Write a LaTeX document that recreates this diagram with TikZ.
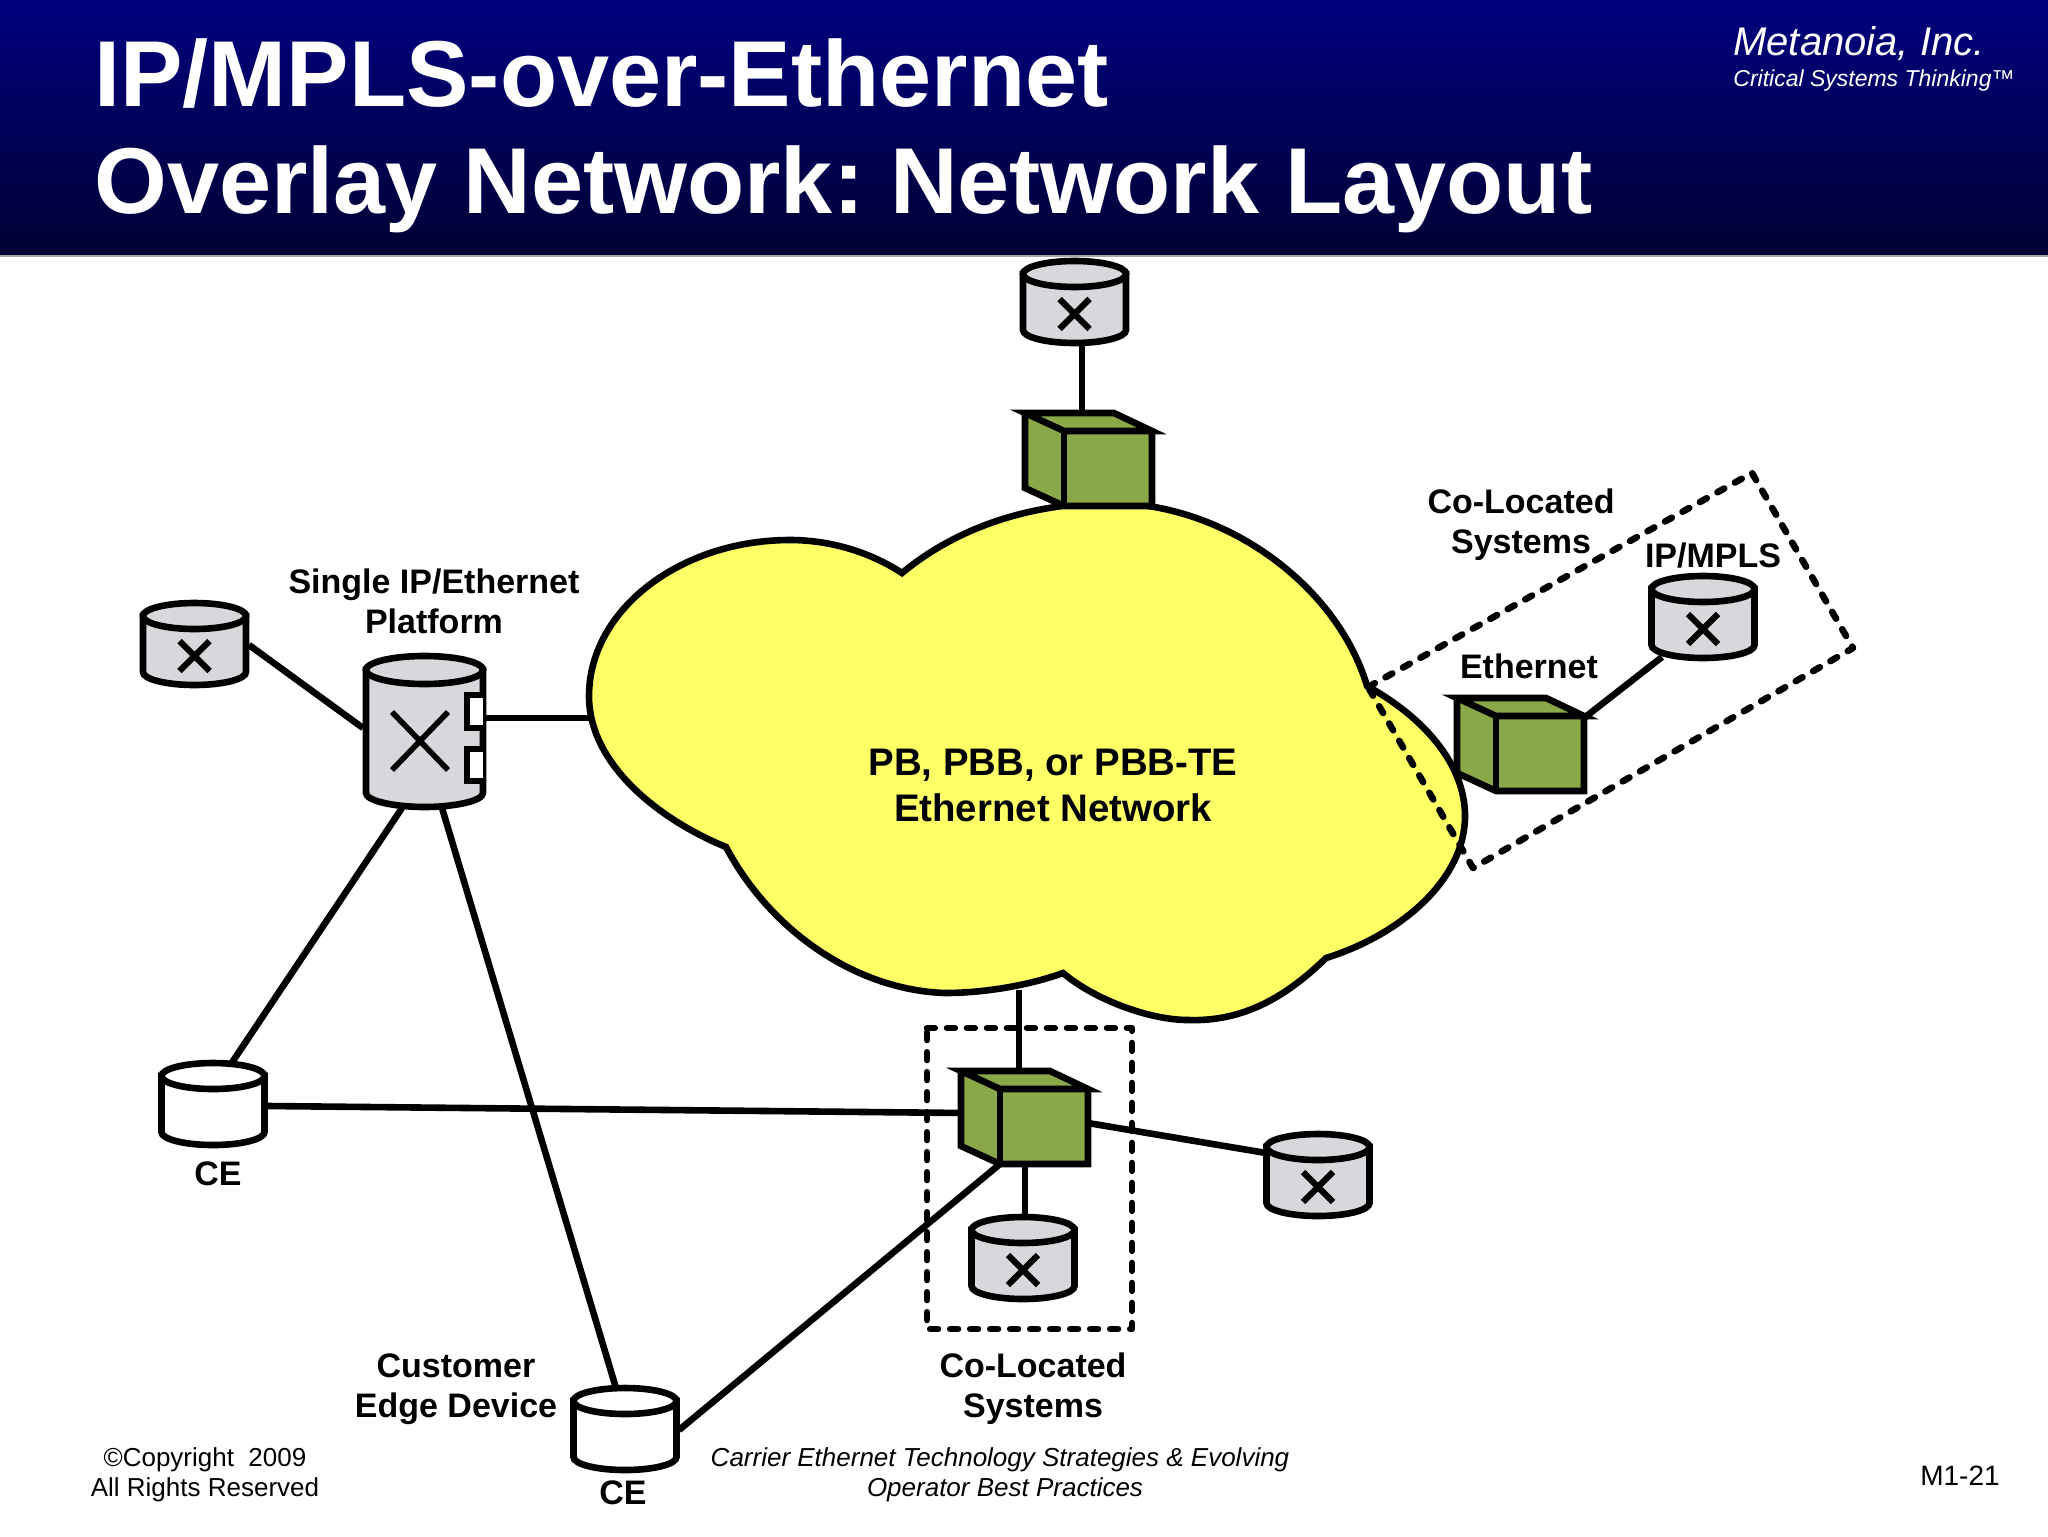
\documentclass[tikz,border=0pt]{standalone}
\usepackage{fontspec}
\setmainfont{Liberation Sans}
\frenchspacing
\definecolor{devgrey}{HTML}{D8D8DC}
\definecolor{cubegreen}{HTML}{8AA848}
\definecolor{cloudyellow}{HTML}{FFFF66}
\tikzset{
  stroke/.style={draw=black,line width=3.3pt,line join=miter,miter limit=10},
  link/.style={draw=black,line width=3.3pt},
  thinx/.style={draw=black,line width=3.1pt},
  dashbox/.style={draw=black,line width=3.3pt,line cap=round,dash pattern=on 3.9pt off 6.1pt,line join=round},
  lab/.style={font=\bfseries\fontsize{17}{20}\selectfont,align=center,inner sep=0pt,text=black},
  foot/.style={font=\fontsize{13}{15}\selectfont,align=center,inner sep=0pt,text=black},
  footi/.style={font=\itshape\fontsize{13}{15}\selectfont,align=center,inner sep=0pt,text=black},
  ghost/.style={inner sep=0pt,outer sep=0pt,draw=none,fill=none},
}
% half ellipse, lower side, from (-r,c) to (r,c)
\newcommand{\lowerhalf}[3]{.. controls (-#1,#2+0.5523*#3) and (-0.5523*#1,#2+#3) .. (0,#2+#3) .. controls (0.5523*#1,#2+#3) and (#1,#2+0.5523*#3) .. (#1,#2)}
% name, centre x, outer top y, fill
\newcommand{\cylbody}[4]{%
  \node[ghost,minimum width=54.5pt,minimum height=44pt] (#1) at (#2,#3+44) {};
  \begin{scope}[shift={(#2,#3)}]
    \path[stroke,fill=#4] (-51.5,16) -- (-51.5,72) \lowerhalf{51.5}{72}{13} -- (51.5,16) -- cycle;
    \path[stroke,fill=#4] (0,16) ellipse [x radius=51.5,y radius=13];
  \end{scope}}
\newcommand{\routercyl}[3]{%
  \cylbody{#1}{#2}{#3}{devgrey}
  \begin{scope}[shift={(#2,#3)}]
    \path[thinx] (-15,41) -- (15,71) (15,41) -- (-15,71);
  \end{scope}}
% name, front-face top-left x, y
\newcommand{\cube}[3]{%
  \node[ghost,minimum width=44pt,minimum height=37.5pt] (#1) at (#2+44,#3+37.5) {};
  \begin{scope}[shift={(#2,#3)}]
    \path[fill=cubegreen] (-39,-18) -- (50,-18) -- (88,0) -- (88,75) -- (0,75) -- (-39,57) -- cycle;
    \path[stroke] (0,0) -- (-39,-18) -- (50,-18) -- (88,0) -- (0,0);
    \path[stroke] (-39,-18) -- (-39,57) -- (0,75) -- (88,75) -- (88,0);
    \path[stroke] (0,75) -- (0,0);
  \end{scope}}
\begin{document}
\begin{tikzpicture}[x=0.5pt,y=-0.5pt]
\useasboundingbox (0,0) rectangle (2048,1536);
\fill[white] (0,0) rectangle (2048,1536);
\shade[top color=blue!50!black,bottom color=blue!20!black] (0,0) rectangle (2048,255);
\fill[gray!70] (0,255) rectangle (2048,257);

\node[anchor=base west,inner sep=0pt,text=white,font=\bfseries\fontsize{46.8}{50}\selectfont] (t1) at (94,106) {IP/MPLS-over-Ethernet};
\node[anchor=base west,inner sep=0pt,text=white,font=\bfseries\fontsize{46.8}{50}\selectfont] (t2) at (94,213) {Overlay Network: Network Layout};
\node[anchor=base west,inner sep=0pt,text=white,font=\itshape\fontsize{20}{20}\selectfont] (m1) at (1733,56) {Metanoia, Inc.};
\node[anchor=base west,inner sep=0pt,text=white,font=\itshape\fontsize{11.5}{12}\selectfont] (m2) at (1733,87) {Critical Systems Thinking™};

% ports
\coordinate (pL) at (249,645);
\coordinate (pBl) at (363,728);
\coordinate (pBr) at (486,718);
\coordinate (pCl) at (590,718);
\coordinate (pBd1) at (402,808);
\coordinate (pBd2) at (442,808);
\coordinate (pCE1t) at (231,1064);
\coordinate (pCE2t) at (616,1388);
\coordinate (pCE1r) at (268,1106);
\coordinate (pCE2r) at (679,1430);
\coordinate (pCubeL) at (965,1113);
\coordinate (pCubeB) at (1000,1164);
\coordinate (pCubeR) at (1088,1123);
\coordinate (pCubeD) at (1025,1164);
\coordinate (pCubeT) at (1019,1072);
\coordinate (pCloudB) at (1019,990);
\coordinate (pRcyl) at (1266,1153);
\coordinate (pDcyl) at (1025,1216);
\coordinate (pTcyl) at (1082,345);
\coordinate (pTcube) at (1082,415);
\coordinate (pIcube) at (1584,718);
\coordinate (pIcyl) at (1662,657);

\draw[link] (pL) -- (pBl);
\draw[link] (pBr) -- (pCl);
\draw[link] (pBd1) -- (pCE1t);
\draw[link] (pBd2) -- (pCE2t);
\draw[link] (pCE1r) -- (pCubeL);
\draw[link] (pCE2r) -- (pCubeB);
\draw[link] (pCubeR) -- (pRcyl);
\draw[link] (pCubeD) -- (pDcyl);
\draw[link] (pCubeT) -- (pCloudB);
\draw[link] (pTcyl) -- (pTcube);
\draw[link] (pIcube) -- (pIcyl);

% cloud
\path[stroke,fill=cloudyellow]
  (902,573) .. controls (960,525) and (1035,503) .. (1110,503)
  .. controls (1225,503) and (1337,585) .. (1367,686)
  .. controls (1425,718) and (1465,765) .. (1465,816)
  .. controls (1465,880) and (1400,935) .. (1326,958)
  .. controls (1288,995) and (1245,1022) .. (1188,1020)
  .. controls (1150,1020) and (1095,1000) .. (1063,973)
  .. controls (1030,985) and (985,993) .. (945,993)
  .. controls (855,990) and (770,930) .. (726,847)
  .. controls (660,820) and (589,765) .. (589,696)
  .. controls (589,610) and (680,540) .. (790,540)
  .. controls (830,540) and (870,552) .. (902,573)
  -- cycle;

% devices
\routercyl{cylL}{194.5}{600}
\routercyl{cylT}{1074.5}{258}
\routercyl{cylI}{1703}{573}
\routercyl{cylR}{1318}{1131}
\routercyl{cylD}{1023}{1214}
\cylbody{ce1}{213}{1060}{white}
\cylbody{ce2}{625}{1385}{white}

% big platform
\node[ghost,minimum width=61pt,minimum height=78pt] (big) at (424.5,731) {};
\path[stroke,fill=devgrey] (366,670) -- (366,793) .. controls (366,801) and (395,807) .. (424.5,807) .. controls (454,807) and (483,801) .. (483,793) -- (483,670) -- cycle;
\path[stroke,fill=devgrey] (424.5,670) ellipse [x radius=58.5,y radius=14];
\path[draw=black,line width=2.8pt] (392,712) -- (448,770) (448,712) -- (392,770);
\path[stroke,fill=white] (483,695) -- (467,695) -- (467,728) -- (483,728);
\path[stroke,fill=white] (483,749) -- (467,749) -- (467,781) -- (483,781);

\cube{cubeT}{1064}{431}
\cube{cubeR}{1496}{716}
\cube{cubeB}{1000}{1089}

% dashed groupings
\coordinate (d1) at (1368,687);
\coordinate (d2) at (1752,473);
\coordinate (d3) at (1853,648);
\coordinate (d4) at (1473,868);
\draw[dashbox] (d1) -- (d2) -- (d3) -- (d4) -- cycle;
\coordinate (e1) at (927,1028);
\coordinate (e2) at (1132,1028);
\coordinate (e3) at (1132,1329);
\coordinate (e4) at (927,1329);
\draw[dashbox] (e1) -- (e2) -- (e3) -- (e4) -- cycle;

% labels
\node[lab] (lSingle) at (434,601) {Single IP/Ethernet\\Platform};
\node[lab] (lCo1) at (1521,525) {Co-Located\\Systems};
\node[lab] (lIP) at (1713,556) {IP/MPLS};
\node[lab] (lEth) at (1529,666) {Ethernet};
\node[lab,font=\bfseries\fontsize{19.2}{23}\selectfont] (lCloud) at (1053,785) {PB, PBB, or PBB-TE\\Ethernet Network};
\node[lab] (lCE1) at (218,1174) {CE};
\node[lab] (lCE2) at (623,1493) {CE};
\node[lab] (lCust) at (456,1389) {Customer\\Edge Device};
\node[lab] (lCo2) at (1033,1389) {Co-Located\\Systems};
\node[foot] (fC) at (205,1475) {©Copyright\ \ 2009\\All Rights Reserved};
\node[footi] (fT) at (1000,1475) {Carrier Ethernet Technology Strategies \& Evolving\\\hspace*{5pt}Operator Best Practices};
\node[foot,font=\fontsize{14}{15}\selectfont] (fP) at (1960,1476) {M1-21};
\end{tikzpicture}
\end{document}
